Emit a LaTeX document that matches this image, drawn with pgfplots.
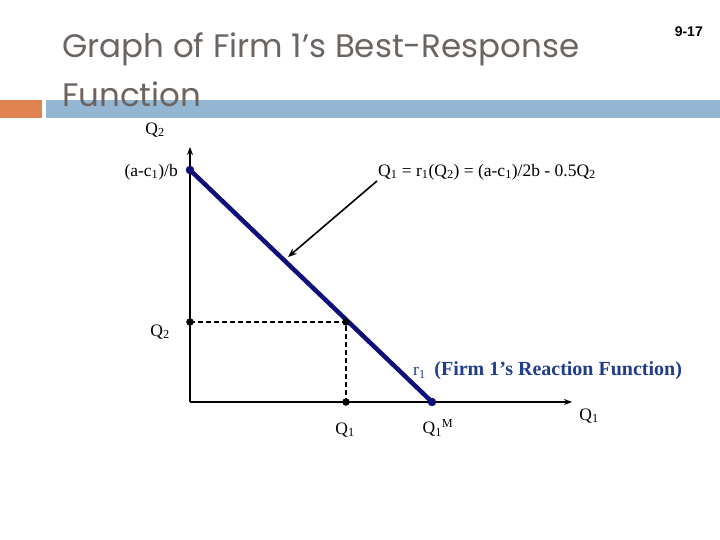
\documentclass[border=0pt]{standalone}
\usepackage{pgfplots}
\pgfplotsset{compat=1.18}
\usepackage{fontspec}
\setmainfont{Liberation Serif}
\newfontfamily\titlefont{Poppins}
\newfontfamily\arialfont{Liberation Sans}
\usetikzlibrary{arrows.meta}

\definecolor{titlegray}{HTML}{6B6461}
\definecolor{barorange}{HTML}{DF8450}
\definecolor{barblue}{HTML}{95B6D3}
\definecolor{navy}{HTML}{10107A}
\definecolor{labelblue}{HTML}{1F3C8F}

\begin{document}
\begin{tikzpicture}[x=1pt,y=1pt]
  % slide frame, 1 unit = 1 px of the reference
  \path[fill=white,use as bounding box] (0,0) rectangle (720,540);

  % title bars
  \fill[barorange] (0,422) rectangle (42,440);
  \fill[barblue] (46,422) rectangle (720,440);

  \node[anchor=base west,inner sep=0,text=titlegray,font=\titlefont\fontsize{32.5}{32.5}\selectfont]
    at (62,482) {Graph of Firm 1’s Best-Response};
  \node[anchor=base west,inner sep=0,text=titlegray,font=\titlefont\fontsize{32.5}{32.5}\selectfont]
    at (62,433) {Function};
  \node[anchor=base east,inner sep=0,font=\arialfont\bfseries\fontsize{14}{14}\selectfont]
    at (703,503) {9-17};

  \begin{axis}[
    at={(190,138)}, anchor=south west,
    scale only axis, width=382pt, height=255pt,
    xmin=0, xmax=382, ymin=0, ymax=255,
    axis lines=left,
    axis line style={line width=2.2pt,-{Stealth[length=8pt,width=6pt]}},
    ticks=none,
    clip=false,
  ]
    % dashed guides to the chosen point
    \addplot[black,line width=1.6pt,dash pattern=on 5pt off 3pt]
      coordinates {(0,80) (156,80) (156,0)};
    \addplot[only marks,mark=*,mark size=3.5pt,black]
      coordinates {(0,80) (156,80) (156,0)};

    % reaction function
    \addplot[navy,line width=4.5pt] coordinates {(0,232) (242,0)};
    \addplot[only marks,mark=*,mark size=4pt,navy]
      coordinates {(0,232) (242,0)};

    % pointer to the line
    \addplot[black,line width=1.6pt,-{Stealth[length=9pt,width=7pt]}]
      coordinates {(187,221) (98,145)};
  \end{axis}

  % labels
  \begin{scope}[every node/.style={inner sep=0,font=\fontsize{17.5}{17.5}\selectfont}]
    \node at (155,410) {Q\textsubscript{2}};
    \node[anchor=east] at (178,368) {(a-c\textsubscript{1})/b};
    \node[anchor=west] at (378,368) {Q\textsubscript{1} = r\textsubscript{1}(Q\textsubscript{2}) = (a-c\textsubscript{1})/2b - 0.5Q\textsubscript{2}};
    \node at (160,208) {Q\textsubscript{2}};
    \node at (345,110) {Q\textsubscript{1}};
    \node at (438,112) {Q\textsubscript{1}\textsuperscript{M}};
    \node at (589,124) {Q\textsubscript{1}};
    \node[anchor=west,text=labelblue] at (413,169)
      {r\textsubscript{1}\ \ {\fontsize{20}{20}\selectfont\bfseries (Firm 1’s Reaction Function)}};
  \end{scope}
\end{tikzpicture}
\end{document}
